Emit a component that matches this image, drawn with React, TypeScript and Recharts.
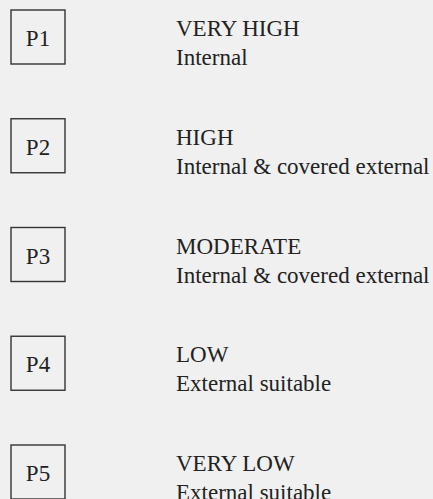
import React from "react";
import { ScatterChart, Scatter, XAxis, YAxis } from "recharts";

const codes = ["P1", "P2", "P3", "P4", "P5"];
const levels = ["VERY HIGH", "HIGH", "MODERATE", "LOW", "VERY LOW"];
const locations = [
  "Internal",
  "Internal & covered external",
  "Internal & covered external",
  "External suitable",
  "External suitable",
];
const ranks = [1, 2, 3, 4, 5];
const xs = [0, 0, 0, 0, 0];

const data = codes.map((c, i) => ({
  code: c,
  level: levels[i],
  location: locations[i],
  rank: ranks[i],
  x: xs[i],
}));

const FONT = "'Liberation Serif', serif";
const INK = "#222";

const RowShape = (props: any) => {
  const { cx, cy, payload } = props;
  if (cx == null || cy == null) return null;
  return (
    <g>
      <rect
        x={cx - 27}
        y={cy - 27}
        width={54}
        height={54}
        fill="none"
        stroke="#333"
        strokeWidth={1.4}
      />
      <text
        x={cx}
        y={cy + 9}
        textAnchor="middle"
        fontFamily={FONT}
        fontSize={23}
        fill={INK}
      >
        {payload.code}
      </text>
      <text x={cx + 138} y={cy - 1} fontFamily={FONT} fontSize={23} fill={INK}>
        {payload.level}
      </text>
      <text x={cx + 138} y={cy + 28} fontFamily={FONT} fontSize={23} fill={INK}>
        {payload.location}
      </text>
    </g>
  );
};

export default function App() {
  return (
    <div
      style={{
        position: "absolute",
        left: 0,
        top: 0,
        width: 433,
        height: 499,
        background: "#f0f0f0",
        overflow: "hidden",
      }}
    >
      <ScatterChart
        width={433}
        height={499}
        margin={{ top: 37, right: 20, bottom: 27, left: 38 }}
      >
        <XAxis type="number" dataKey="x" domain={[0, 1]} hide />
        <YAxis type="number" dataKey="rank" domain={[1, 5]} reversed hide />
        <Scatter data={data} shape={RowShape} isAnimationActive={false} />
      </ScatterChart>
    </div>
  );
}
